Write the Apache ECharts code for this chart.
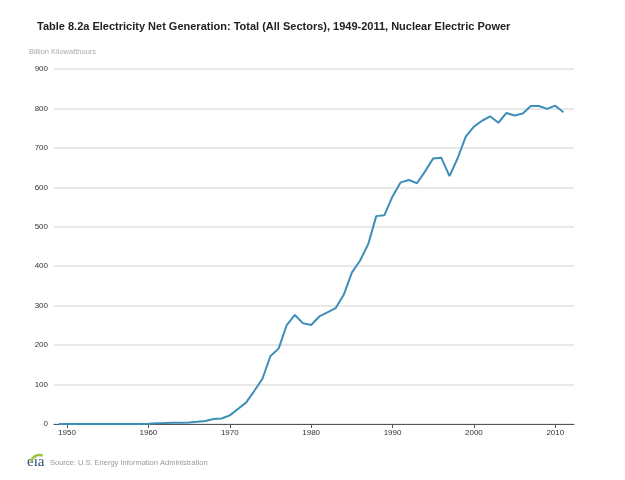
<!DOCTYPE html>
<html><head><meta charset="utf-8">
<script src="https://cdn.jsdelivr.net/npm/echarts@6/dist/echarts.min.js"></script>
<style>html,body{margin:0;padding:0;background:#fff}#c{width:625px;height:480px}</style>
</head><body><div id="c"></div>
<script>
const years = [1949,1950,1951,1952,1953,1954,1955,1956,1957,1958,1959,1960,1961,1962,1963,1964,1965,1966,1967,1968,1969,1970,1971,1972,1973,1974,1975,1976,1977,1978,1979,1980,1981,1982,1983,1984,1985,1986,1987,1988,1989,1990,1991,1992,1993,1994,1995,1996,1997,1998,1999,2000,2001,2002,2003,2004,2005,2006,2007,2008,2009,2010,2011];
const nuclear = [0,0,0,0,0,0,0,0,0.01,0.17,0.19,0.52,1.69,2.27,3.21,3.34,3.66,5.52,7.66,12.53,13.93,21.8,38.1,54.1,83.5,114.0,172.5,191.1,250.9,276.4,255.2,251.1,272.7,282.8,293.7,327.6,383.7,414.0,455.3,527.0,529.4,576.9,612.6,618.8,610.3,640.4,673.4,674.7,628.6,673.7,728.3,753.9,768.8,780.1,763.7,788.5,782.0,787.2,806.4,806.2,798.9,807.0,790.2];
const xTicks = [1950,1960,1970,1980,1990,2000,2010];
const yTicks = [0,100,200,300,400,500,600,700,800,900];
const titleText = 'Table 8.2a Electricity Net Generation: Total (All Sectors), 1949-2011, Nuclear Electric Power';
const yName = 'Billion Kilowatthours';
const sourceText = 'Source: U.S. Energy Information Administration';

const chart = echarts.init(document.getElementById('c'));
chart.setOption({
  animation: false,
  backgroundColor: '#fff',
  title: {
    text: titleText, left: 37, top: 21, padding: 0,
    textStyle: {fontFamily: 'Liberation Sans', fontWeight: 'bold', fontSize: 11, color: '#222'}
  },
  grid: {left: 54, right: 51, top: 69, bottom: 56},
  xAxis: {
    type: 'value', min: 1948.4, max: 2012.3,
    splitLine: {show: false},
    axisLine: {lineStyle: {color: '#555', width: 1}},
    axisTick: {show: true, customValues: xTicks, length: 4, lineStyle: {color: '#555'}},
    axisLabel: {customValues: xTicks, formatter: v => String(v), fontSize: 8, color: '#333', fontFamily: 'Liberation Sans', margin: 5}
  },
  yAxis: {
    type: 'value', min: 0, max: 900, interval: 100,
    axisLine: {show: false}, axisTick: {show: false},
    splitLine: {lineStyle: {color: '#e0e0e0', width: 1.5}},
    axisLabel: {fontSize: 8, color: '#333', fontFamily: 'Liberation Sans', margin: 6}
  },
  graphic: [
    {type: 'text', left: 29, top: 48, style: {text: yName, fontSize: 7.5, fill: '#aaa', fontFamily: 'Liberation Sans'}},
    {type: 'text', left: 50, top: 459, style: {text: sourceText, fontSize: 7.5, fill: '#999', fontFamily: 'Liberation Sans'}},
    {type: 'text', left: 27, top: 455, style: {text: 'eia', fontSize: 15, fill: '#2b4f7a', fontFamily: 'Liberation Serif'}},
    {type: 'arc', shape: {cx: 39, cy: 463, r: 8, startAngle: -Math.PI*0.95, endAngle: -Math.PI*0.35}, style: {stroke: '#9cc43c', lineWidth: 2.5, fill: null}}
  ],
  series: [{
    type: 'line', showSymbol: false,
    data: years.map((y, i) => [y, nuclear[i]]),
    lineStyle: {color: '#3d8fb8', width: 2},
    itemStyle: {color: '#3d8fb8'}
  }]
});
</script></body></html>
